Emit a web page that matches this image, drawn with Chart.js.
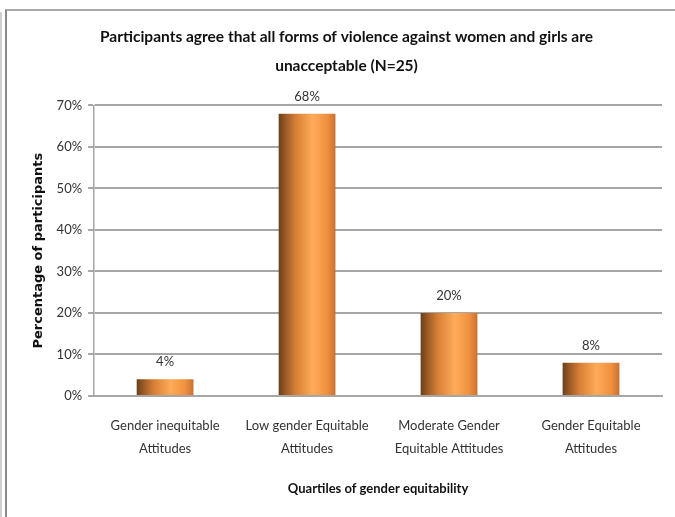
<!DOCTYPE html>
<html>
<head>
<meta charset="utf-8">
<script src="https://cdn.jsdelivr.net/npm/chart.js@4.4.1/dist/chart.umd.min.js"></script>
<style>
  html, body { margin: 0; padding: 0; background: #fff; }
  #wrap { position: relative; width: 675px; height: 517px; overflow: hidden; }
  /* outer frame lines around the chart */
  #frameOuter { position: absolute; left: 0; top: 12px; width: 2px; height: 505px; background: #d0d0d0; }
  #frame { position: absolute; left: 5px; top: 9px; right: -10px; bottom: -10px;
           border-left: 2px solid #8a8a8a; border-top: 2px solid #a8a8a8; }
  canvas { position: absolute; left: 0; top: 0; }
</style>
</head>
<body>
<div id="wrap">
  <div id="frameOuter"></div>
  <div id="frame"></div>
  <canvas id="grafico" width="675" height="517"></canvas>
</div>
<script>
  const categorias = [
    ["Gender inequitable", "Attitudes"],
    ["Low gender Equitable", "Attitudes"],
    ["Moderate Gender", "Equitable Attitudes"],
    ["Gender Equitable", "Attitudes"]
  ];
  const valores = [4, 68, 20, 8]; // % de participantes
  const ticksY = ["0%", "10%", "20%", "30%", "40%", "50%", "60%", "70%"];

  const fonte = "Lato, 'Liberation Sans', sans-serif";

  // gradiente horizontal tipo cilindro para cada barra
  function corBarra(ctx) {
    const chart = ctx.chart;
    const escalaX = chart.scales.x;
    if (!escalaX || ctx.dataIndex === undefined) return "#e88a3c";
    const centro = escalaX.getPixelForValue(ctx.dataIndex);
    const largura = escalaX.width / categorias.length * 0.4;
    if (!Number.isFinite(centro) || !Number.isFinite(largura) || largura <= 0) return "#e88a3c";
    const g = chart.ctx.createLinearGradient(centro - largura / 2, 0, centro + largura / 2, 0);
    g.addColorStop(0, "#6a3f1c");
    g.addColorStop(0.12, "#9a5a26");
    g.addColorStop(0.3, "#d77f36");
    g.addColorStop(0.6, "#ffab58");
    g.addColorStop(0.85, "#f0913f");
    g.addColorStop(1, "#c9712f");
    return g;
  }

  // rótulos de valor acima das barras
  const rotulos = {
    id: "rotulos",
    afterDatasetsDraw(chart) {
      const c = chart.ctx;
      const meta = chart.getDatasetMeta(0);
      c.save();
      c.fillStyle = "#333";
      c.font = "13px " + fonte;
      c.textAlign = "center";
      c.textBaseline = "middle";
      meta.data.forEach((barra, i) => {
        c.fillText(valores[i] + "%", barra.x, barra.y - 17);
      });
      c.restore();
    }
  };

  const grafico = new Chart(document.getElementById("grafico"), {
    type: "bar",
    data: {
      labels: categorias,
      datasets: [{
        data: valores,
        backgroundColor: corBarra,
        borderWidth: 0,
        barPercentage: 0.4,
        categoryPercentage: 1
      }]
    },
    options: {
      responsive: false,
      animation: false,
      layout: { padding: { left: 31, right: 13, top: 0, bottom: 20 } },
      plugins: {
        legend: { display: false },
        tooltip: { enabled: false },
        title: {
          display: true,
          text: ["Participants agree that all forms of violence against women and girls are", "unacceptable (N=25)"],
          color: "#111",
          font: { family: fonte, size: 15.5, weight: "bold", lineHeight: 1.85 },
          padding: { top: 23, bottom: 25 }
        }
      },
      scales: {
        y: {
          min: 0,
          max: 70,
          ticks: {
            stepSize: 10,
            color: "#333",
            font: { family: fonte, size: 13 },
            padding: 6,
            callback: (v, i) => ticksY[i]
          },
          grid: { color: "#a6a6a6", lineWidth: 2, tickLength: 6 },
          border: { color: "#a6a6a6", width: 1.5 },
          title: {
            display: true,
            text: "Percentage of participants",
            color: "#111",
            font: { family: "'DejaVu Sans', sans-serif", size: 13, weight: "bold" },
            padding: { top: 0, bottom: 4 }
          }
        },
        x: {
          grid: { display: false },
          border: { color: "#a6a6a6", width: 2 },
          ticks: {
            color: "#333",
            font: { family: fonte, size: 13, lineHeight: 1.75 },
            padding: 11,
            maxRotation: 0
          },
          title: {
            display: true,
            text: "Quartiles of gender equitability",
            color: "#111",
            font: { family: fonte, size: 13, weight: "bold" },
            padding: { top: 10, bottom: 0 }
          }
        }
      }
    },
    plugins: [rotulos]
  });
  grafico.update();
</script>
</body>
</html>
